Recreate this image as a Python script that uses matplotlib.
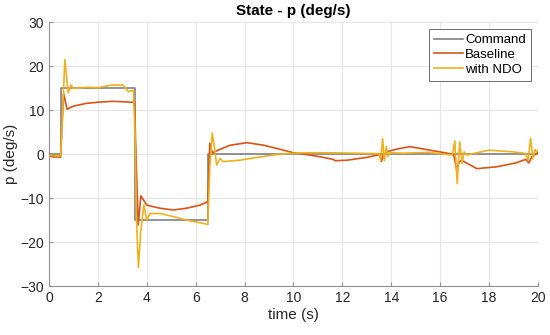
import numpy as np
import matplotlib
matplotlib.use("Agg")
import matplotlib.pyplot as plt

plt.rcParams['font.family'] = ['Liberation Sans', 'DejaVu Sans']

# command signal (step profile)
cmd_t = [0, 0.5, 0.5, 3.5, 3.5, 6.5, 6.5, 20]
cmd_p = [0, 0, 15, 15, -15, -15, 0, 0]

# baseline response
base_t = [0, 0.1, 0.48, 0.52, 0.6, 0.74, 1.0, 1.5, 2.0, 2.6, 3.0, 3.5,
          3.56, 3.65, 3.76, 4.0, 4.54, 5.08, 5.63, 6.18, 6.5,
          6.58, 6.68, 6.8, 7.4, 8.1, 8.8, 9.45, 10.0, 10.27, 11.08, 11.63, 11.7,
          12.18, 13.0, 13.54, 13.6, 13.68, 13.8, 14.2, 14.76, 15.58, 16.4, 16.55,
          16.68, 16.78, 16.88, 17.5, 18.3, 19.1, 19.5, 19.63, 19.75, 19.95, 20.0]
base_p = [0, -0.6, -0.7, 5.0, 13.8, 10.2, 10.9, 11.5, 11.8, 12.0, 11.9, 11.75,
          0.0, -16.1, -9.5, -11.6, -12.3, -12.7, -12.3, -11.6, -10.8,
          2.5, 0.3, 0.6, 2.0, 2.6, 2.0, 1.1, 0.3, 0.15, -0.6, -1.2, -1.5,
          -1.4, -0.75, -0.1, -1.7, -0.2, 0.5, 1.1, 1.7, 0.9, 0.1, 0.0,
          -3.6, -1.8, -1.4, -3.3, -2.9, -2.0, -1.2, -2.0, -0.6, 0.15, 0.3]

# response with NDO
ndo_t = [0, 0.1, 0.48, 0.55, 0.65, 0.79, 0.9, 1.0, 1.2, 1.6, 2.0, 2.57, 3.03, 3.25,
         3.45, 3.52, 3.58, 3.66, 3.75, 3.88, 4.0, 4.13, 4.54, 5.08, 5.63, 6.18, 6.5,
         6.58, 6.68, 6.78, 6.86, 7.0, 7.13, 7.8, 8.5, 9.17, 9.86, 10.5, 11.5, 12.5,
         13.5, 13.57, 13.65, 13.72, 13.8, 13.87, 13.95, 14.5, 15.5, 16.5,
         16.6, 16.7, 16.8, 16.9, 16.98, 17.1, 18.0, 19.0, 19.5, 19.6, 19.7, 19.8,
         19.88, 19.95, 20.0]
ndo_p = [0, -0.3, -0.4, 8.0, 21.5, 13.9, 15.7, 14.9, 15.0, 15.2, 15.1, 15.7, 15.7, 14.2,
         14.5, 5.0, -15.0, -25.8, -18.0, -11.6, -15.0, -13.5, -13.5, -14.2, -15.0, -15.6, -16.0,
         -3.0, 4.8, 1.0, -2.5, -1.0, -1.7, -1.4, -0.75, -0.2, 0.15, 0.3, 0.3, 0.2,
         0.1, -1.5, 3.5, -1.5, 1.7, -0.5, 0.3, 0.2, 0.4, -0.2,
         3.0, -6.7, 2.8, -2.1, 0.5, -0.2, 0.9, 0.5, 0.15, -1.4, 3.6, -1.0,
         1.0, 0.5, 0.8]

fig = plt.figure(figsize=(5.5, 3.35), dpi=100)
ax = fig.add_axes([0.089, 0.146, 0.889, 0.788])

ax.plot(cmd_t, cmd_p, color='#808080', lw=1.2, label='Command')
ax.plot(base_t, base_p, color='#D95319', lw=1.2, label='Baseline')
ax.plot(ndo_t, ndo_p, color='#EDB120', lw=1.2, label='with NDO')

ax.set_xlim(0, 20)
ax.set_ylim(-30, 30)
ax.set_xticks(np.arange(0, 21, 2))
ax.set_yticks(np.arange(-30, 31, 10))
ax.grid(True, color='#e6e6e6', lw=0.8)
ax.set_axisbelow(True)
for s in ['top', 'right']:
    ax.spines[s].set_visible(False)
for s in ['left', 'bottom']:
    ax.spines[s].set_color('#909090')
ax.tick_params(direction='in', length=3, color='#909090', labelsize=10, labelcolor='#262626')

ax.set_title('State - p (deg/s)', fontsize=11, fontweight='bold', pad=5)
ax.set_xlabel('time (s)', fontsize=11, color='#262626', labelpad=2)
ax.set_ylabel('p (deg/s)', fontsize=11, color='#262626', labelpad=2)

leg = ax.legend(loc='upper right', fontsize=9.5, fancybox=False, framealpha=1,
                edgecolor='#555555', handlelength=2.2, borderpad=0.35,
                labelspacing=0.2, handletextpad=0.2, borderaxespad=0.55)
leg.get_frame().set_linewidth(0.6)

fig.savefig('out.png', dpi=100)
